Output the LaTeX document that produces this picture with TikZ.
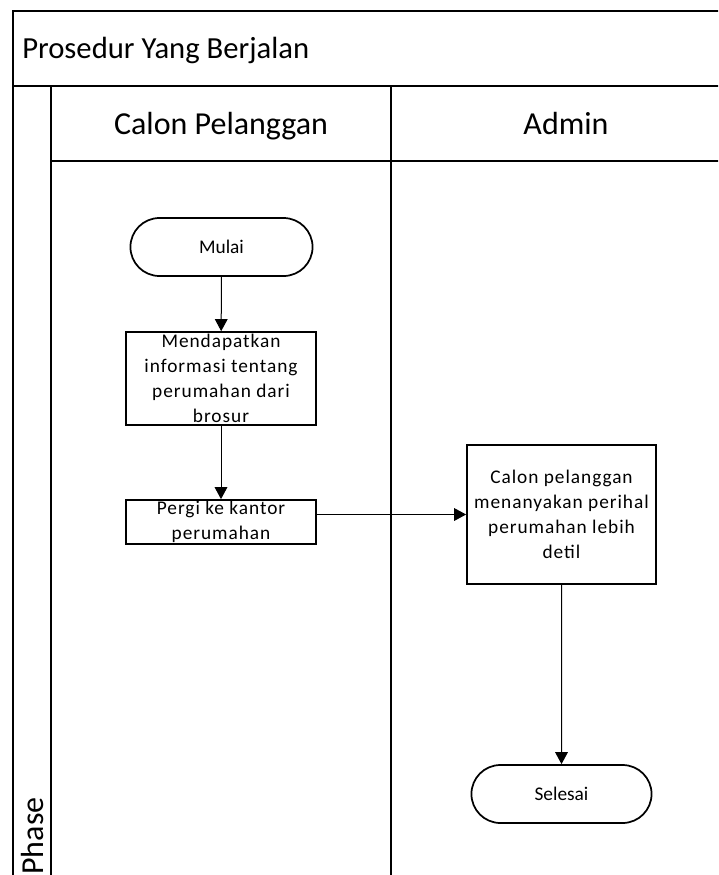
\documentclass[tikz,border=0pt]{standalone}
\usepackage{fontspec}
\setmainfont{Carlito}
\usetikzlibrary{arrows.meta,shapes.misc}

\begin{document}
\begin{tikzpicture}[x=0.75pt,y=-0.75pt,
  frame/.style={line width=1.5pt, draw=black},
  procbox/.style={draw=black, line width=1.3pt, rectangle, align=center,
    font=\fontsize{14.5}{18.6}\selectfont\addfontfeature{LetterSpace=5}, inner sep=1pt},
  termbox/.style={draw=black, line width=1.3pt, rounded rectangle,
    minimum width=143.25pt, minimum height=43.5pt,
    font=\fontsize{14.5}{18.4}\selectfont},
  flow/.style={draw=black, line width=0.75pt,
    -{Triangle[length=9pt,width=9.5pt]}},
  lanehead/.style={font=\fontsize{24}{28}\selectfont, anchor=base},
]
\useasboundingbox (0,0) rectangle (718,875);
\clip (0,0) rectangle (718,875);
\fill[white] (0,0) rectangle (718,875);

% pool frame, title band, lane headers and lane dividers
\draw[frame] (13,900) -- (13,10.5) -- (760,10.5);
\draw[frame] (13,86) -- (760,86);
\draw[frame] (51,161) -- (760,161);
\draw[frame] (51,86) -- (51,900);
\draw[frame] (391,86) -- (391,900);

\node[anchor=base west, inner sep=0pt, font=\fontsize{23}{27}\selectfont] (title) at (22,58) {Prosedur Yang Berjalan};
\node[lanehead] (laneA) at (221,134) {Calon Pelanggan};
\node[lanehead] (laneB) at (566,134) {Admin};
\node[font=\fontsize{24}{28}\selectfont, rotate=90] (phase) at (33,836) {Phase};

% flow shapes
\node[termbox] (mulai) at (221.5,247) {Mulai};
\node[procbox, minimum width=142.5pt, minimum height=69.75pt] (info) at (221,378.5)
  {Mendapatkan\\informasi tentang\\perumahan dari\\brosur};
\node[procbox, minimum width=142.5pt, minimum height=30pt] (pergi) at (221,522)
  {Pergi ke kantor\\perumahan};
\node[procbox, minimum width=141.75pt, minimum height=104.25pt] (tanya) at (561.5,514.5)
  {Calon pelanggan\\menanyakan perihal\\perumahan lebih\\detil};
\node[termbox, minimum width=141.75pt] (selesai) at (561.5,794) {Selesai};

% connectors
\draw[flow] (mulai) -- (info);
\draw[flow] (info) -- (pergi);
\draw[flow] (tanya.west -| pergi.east) -- (tanya.west);
\draw[flow] (tanya) -- (selesai);
\end{tikzpicture}
\end{document}
